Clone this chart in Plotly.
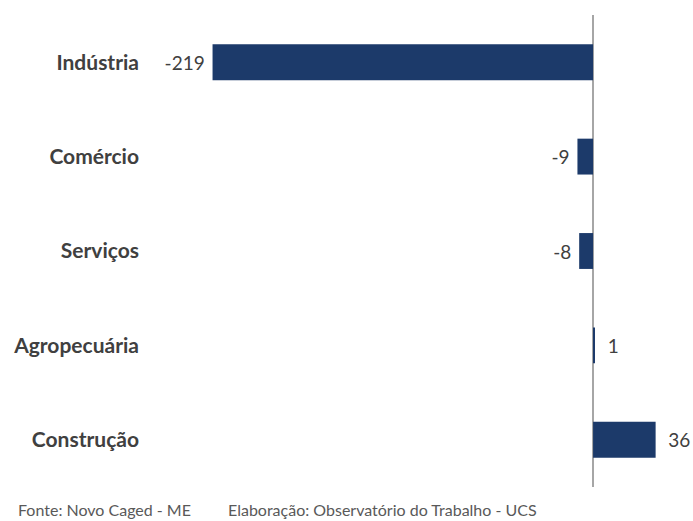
import plotly.graph_objects as go

categories = ["Indústria", "Comércio", "Serviços", "Agropecuária", "Construção"]
values = [-219, -9, -8, 1, 36]
labels = ["-219", "-9", "-8", "1", "36"]

bar_color = "#1C3A6A"
text_color = "#404040"
font_family = "Lato, 'Open Sans', sans-serif"

nbsp = "\u00a0"
display_labels = [
    (lab + nbsp) if v < 0 else (nbsp * 2 + lab) for lab, v in zip(labels, values)
]

fig = go.Figure(
    go.Bar(
        y=categories,
        x=values,
        orientation="h",
        marker=dict(color=bar_color, line=dict(width=0)),
        text=display_labels,
        textposition="outside",
        textfont=dict(family=font_family, size=19, color=text_color),
        cliponaxis=False,
        hoverinfo="skip",
    )
)

fig.update_layout(
    width=693,
    height=521,
    margin=dict(l=150, r=20, t=15, b=34, autoexpand=False),
    paper_bgcolor="white",
    plot_bgcolor="white",
    bargap=0.62,
    showlegend=False,
    xaxis=dict(
        range=[-255, 46],
        showgrid=False,
        showticklabels=False,
        zeroline=True,
        zerolinecolor="#A6A6A6",
        zerolinewidth=1.5,
        showline=False,
        automargin=False,
        fixedrange=True,
    ),
    yaxis=dict(
        autorange="reversed",
        showgrid=False,
        zeroline=False,
        showline=False,
        ticks="",
        automargin=False,
        ticklabelstandoff=10,
        tickfont=dict(family=font_family, size=21, color=text_color, weight="bold"),
        fixedrange=True,
    ),
    annotations=[
        dict(
            text="Fonte: Novo Caged - ME",
            xref="paper", yref="paper",
            x=-150 / 523, y=-22 / 472,
            xanchor="left", yanchor="middle",
            showarrow=False,
            xshift=16,
            font=dict(family=font_family, size=16, color="#595959"),
        ),
        dict(
            text="Elaboração: Observatório do Trabalho - UCS",
            xref="paper", yref="paper",
            x=-150 / 523, y=-22 / 472,
            xanchor="left", yanchor="middle",
            showarrow=False,
            xshift=226,
            font=dict(family=font_family, size=16, color="#595959"),
        ),
    ],
)

fig.write_html(
    "out.html",
    config={"displayModeBar": False},
    post_script="document.body.style.margin='0';document.body.style.overflow='hidden';",
)
